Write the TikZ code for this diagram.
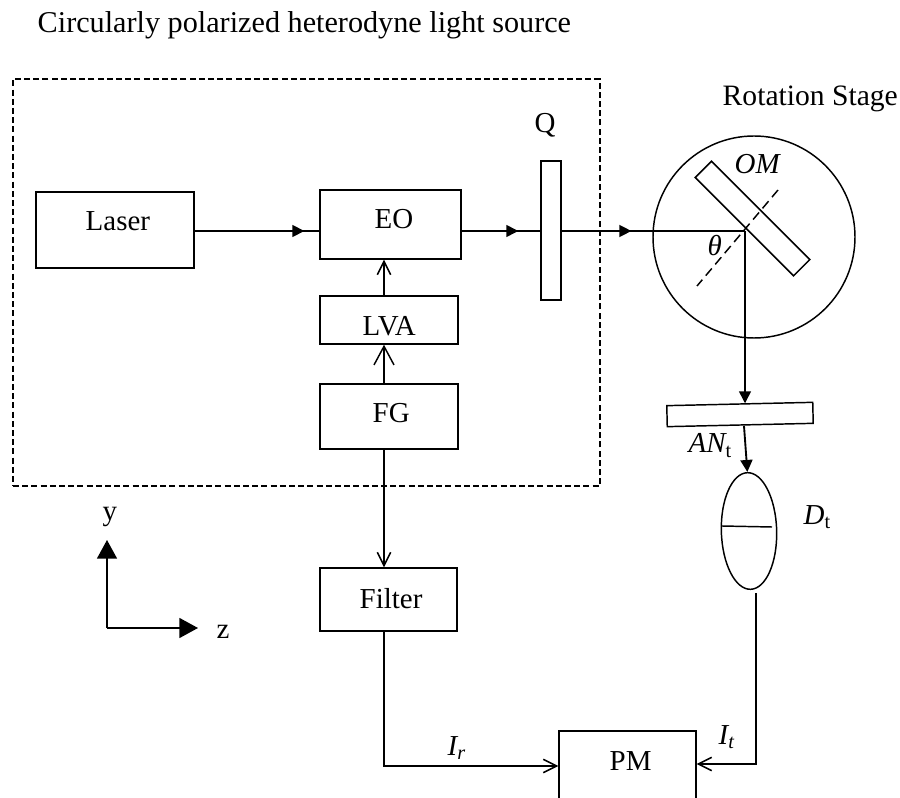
\documentclass[tikz,border=0pt]{standalone}
\usepackage{fontspec}
\setmainfont{Liberation Serif}
\usetikzlibrary{arrows.meta,decorations.markings,shapes.geometric}
\tikzset{
  x=0.75pt,y=-0.75pt,
  box/.style n args={2}{draw,inner sep=0pt,minimum width=#1*0.75pt,minimum height=#2*0.75pt},
  txt/.style={inner sep=0pt,anchor=base west,font=\fontsize{21.7pt}{24pt}\selectfont},
  ital/.style={inner sep=0pt,anchor=base west,font=\itshape\fontsize{21.7pt}{24pt}\selectfont},
  solidtip/.style={-{Triangle[length=9pt,width=9pt]}},
  axistip/.style={-{Triangle[length=14pt,width=15pt]}},
  opentip/.style={-{Straight Barb[length=10pt,width=10pt,line width=1.1pt]}},
  bigopentip/.style={-{Straight Barb[length=14pt,width=15pt,line width=1.1pt]}},
  midtip/.style={postaction={decorate},decoration={markings,mark=at position #1 with {\arrow{Triangle[length=9pt,width=9pt]}}}},
}
\begin{document}
\begin{tikzpicture}[line width=1.1pt]
\useasboundingbox (0,0) rectangle (900,798);
\clip (0,0) rectangle (900,798);
\node[txt,font=\fontsize{22.65pt}{25pt}\selectfont] (title) at (37,33) {Circularly polarized heterodyne light source};
\node[txt,font=\fontsize{22.2pt}{25pt}\selectfont] (rot) at (722,106) {Rotation Stage};
\node[box={587}{407},dash pattern=on 4.5pt off 2.4pt] (frame) at (306.5,282.5) {};
\node[box={158}{76}] (laser) at (115,230) {};
\node[txt] at (85,231) {Laser};
\node[box={141}{69}] (eo) at (390.5,224.5) {};
\node[txt] at (374,229) {EO};
\node[box={138}{48}] (lva) at (389,320) {};
\node[txt] at (362,336) {LVA};
\node[box={138}{65}] (fg) at (389,416.5) {};
\node[txt] at (372,423) {FG};
\node[box={20}{139}] (q) at (551,230.5) {};
\node[txt] at (534,133) {Q};
\node[box={137}{63}] (filter) at (388.5,599.5) {};
\node[txt] at (359,608) {Filter};
\node[box={137}{120}] (pm) at (627.5,791) {};
\node[txt] at (609,770) {PM};
\node[circle,draw,inner sep=0pt,minimum size=151.5pt] (stage) at (754,237) {};
\node[box={139}{23},rotate=-45,fill=white] (om) at (752.5,218.5) {};
\node[box={146}{21},rotate=1.3] (an) at (740,414.5) {};
\node[ellipse,draw,inner sep=0pt,minimum width=41.5pt,minimum height=87.5pt,rotate=1.6] (det) at (749,531) {};
\coordinate (dA) at (722,526);
\coordinate (dB) at (772,527);
\draw (dA) -- (dB);
\coordinate (nA) at (778,190);
\coordinate (nB) at (697,286);
\draw[dash pattern=on 7pt off 4pt] (nA) -- (nB);
\coordinate (hit) at (745,231);
\coordinate (lo) at (384,766);
\coordinate (outA) at (756,593);
\coordinate (outB) at (756,764);
\coordinate (anout) at (744,426);
\draw[midtip=0.88] (laser.east |- hit) -- (eo.west |- hit);
\draw[midtip=0.72] (eo.east |- hit) -- (q.west |- hit);
\draw[midtip=0.38] (q.east |- hit) -- (hit);
\draw[solidtip] (hit) -- (hit |- an.north);
\draw[solidtip,line width=1.4pt] (anout) -- (det.north);
\draw[opentip] (lva.north -| lo) -- (eo.south -| lo);
\draw[bigopentip] (fg.north -| lo) -- (lva.south -| lo);
\draw[opentip] (fg.south -| lo) -- (filter.north -| lo);
\draw[opentip] (filter.south -| lo) -- (lo) -- (pm.west |- lo);
\draw[opentip] (outA) -- (outB) -- (pm.east |- outB);
\coordinate (ax) at (107,628);
\coordinate (ay) at (107,540);
\coordinate (az) at (198,628);
\draw[axistip] (ax) -- (ay);
\draw[axistip] (ax) -- (az);
\node[txt] at (102,521) {y};
\node[txt] at (216,638) {z};
\node[ital] at (707,256) {θ};
\node[ital] at (734,174) {OM};
\node[ital] at (688,453) {AN\textsubscript{\upshape t}};
\node[ital] at (803,524) {D\textsubscript{\upshape t}};
\node[ital] at (447,755) {I\textsubscript{r}};
\node[ital] at (718,744) {I\textsubscript{t}};
\end{tikzpicture}
\end{document}
